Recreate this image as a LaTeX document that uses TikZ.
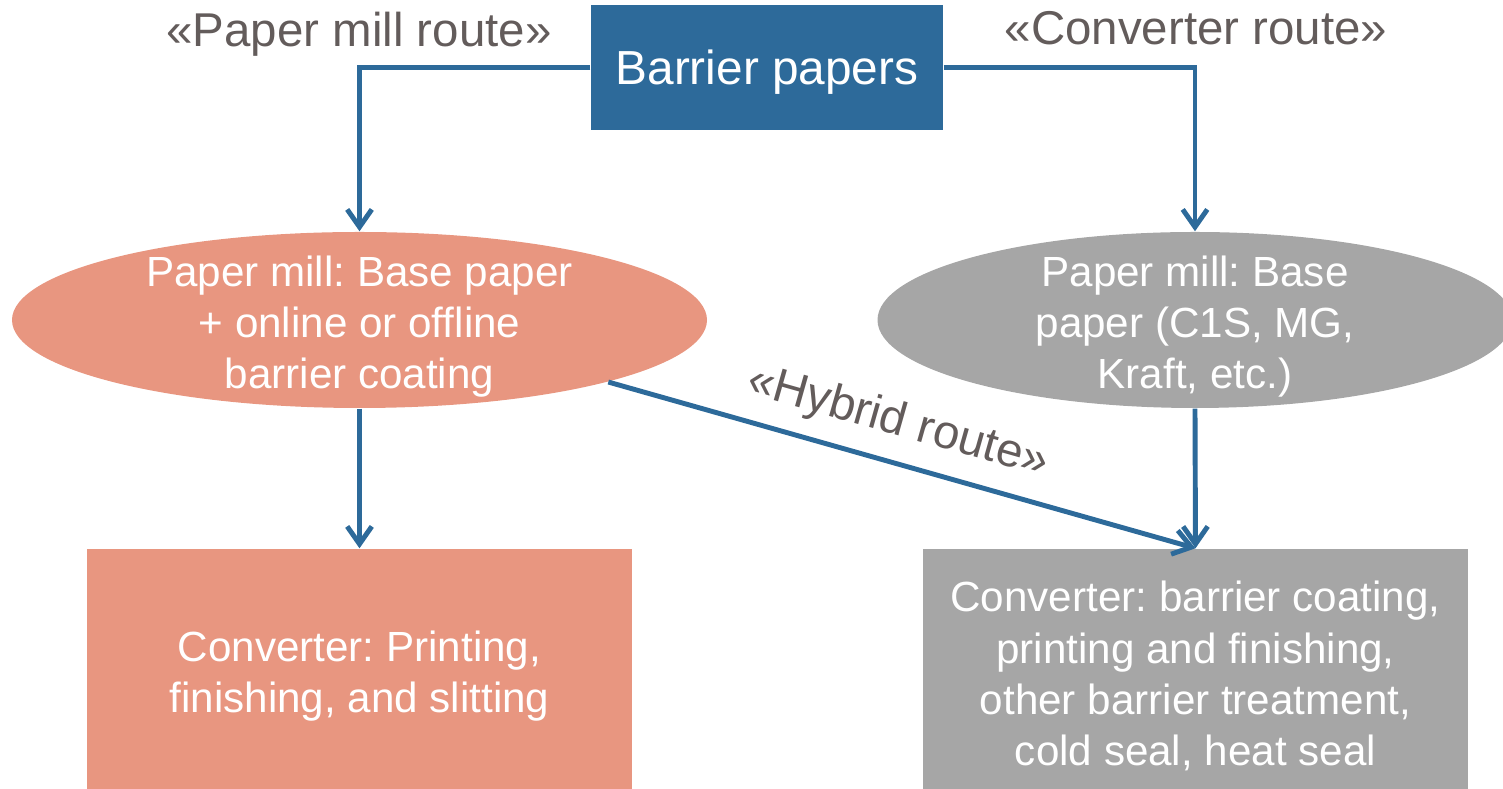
\documentclass[tikz,border=0pt]{standalone}
\usepackage{fontspec}
\setmainfont{Liberation Sans}
\frenchspacing
\usetikzlibrary{positioning, arrows.meta, shapes.geometric}
\definecolor{barblue}{RGB}{45,106,154}
\definecolor{millred}{RGB}{232,150,128}
\definecolor{convgray}{RGB}{166,166,166}
\definecolor{routegray}{RGB}{99,92,91}

\begin{document}
\begin{tikzpicture}[
    body/.style={font=\fontsize{12}{14.6}\selectfont, text=white, align=center, inner sep=0pt},
    oval/.style={ellipse, minimum height=1.76cm},
    slab/.style={minimum width=5.45cm, minimum height=2.40cm},
    route/.style={font=\fontsize{13.5}{16}\selectfont, text=routegray},
    flow/.style={-{Straight Barb[length=5pt, width=7pt]}, barblue, line width=1.4pt}]
  \useasboundingbox (0,0) rectangle (15.03,-7.89);
  % source box and the two ovals below it
  \node[fill=barblue, text=white, font=\fontsize{13.6}{16}\selectfont, text depth=0pt, minimum width=3.52cm, minimum height=1.25cm] (top) at (7.67,-0.675) {Barrier papers};
  \node[oval, fill=millred, minimum width=6.95cm] (mill) at (3.595,-3.20) {};
  \node[oval, fill=convgray, minimum width=6.35cm] (base) at (11.95,-3.20) {};
  % converter boxes, cut by the page edge
  \node[slab, fill=millred] (print) at (3.595,-6.69) {};
  \node[slab, fill=convgray] (conv) at (11.955,-6.69) {};
  % texts sit a little low in their shapes
  \node[body] (milltext) at ([yshift=-1.9pt]mill.center) {Paper mill: Base paper\\ + online or offline\\ barrier coating};
  \node[body] (basetext) at ([yshift=-1.9pt]base.center) {Paper mill: Base\\ paper (C1S, MG,\\ Kraft, etc.)};
  \node[body] (printtext) at ([yshift=-2.1pt]print.center) {Converter: Printing,\\ finishing, and slitting};
  \node[body] (convtext) at ([yshift=-2.1pt]conv.center) {Converter: barrier coating,\\ printing and finishing,\\ other barrier treatment,\\ cold seal, heat seal};
  \node[route, anchor=base] (millroute) at (3.59,-0.47) {«Paper mill route»};
  \node[route, anchor=base] (convroute) at (11.96,-0.45) {«Converter route»};
  % arrows
  \draw[flow] (top.west) -| (mill.north);
  \draw[flow] (top.east) -| (base.north);
  \draw[flow] (mill.south) -- (print.north);
  \draw[flow] (base.south) -- (conv.north);
  \draw[flow] (mill.-14) -- node[route, sloped, above=1pt, pos=0.475] (hybrid) {«Hybrid route»} (conv.north);
\end{tikzpicture}
\end{document}
